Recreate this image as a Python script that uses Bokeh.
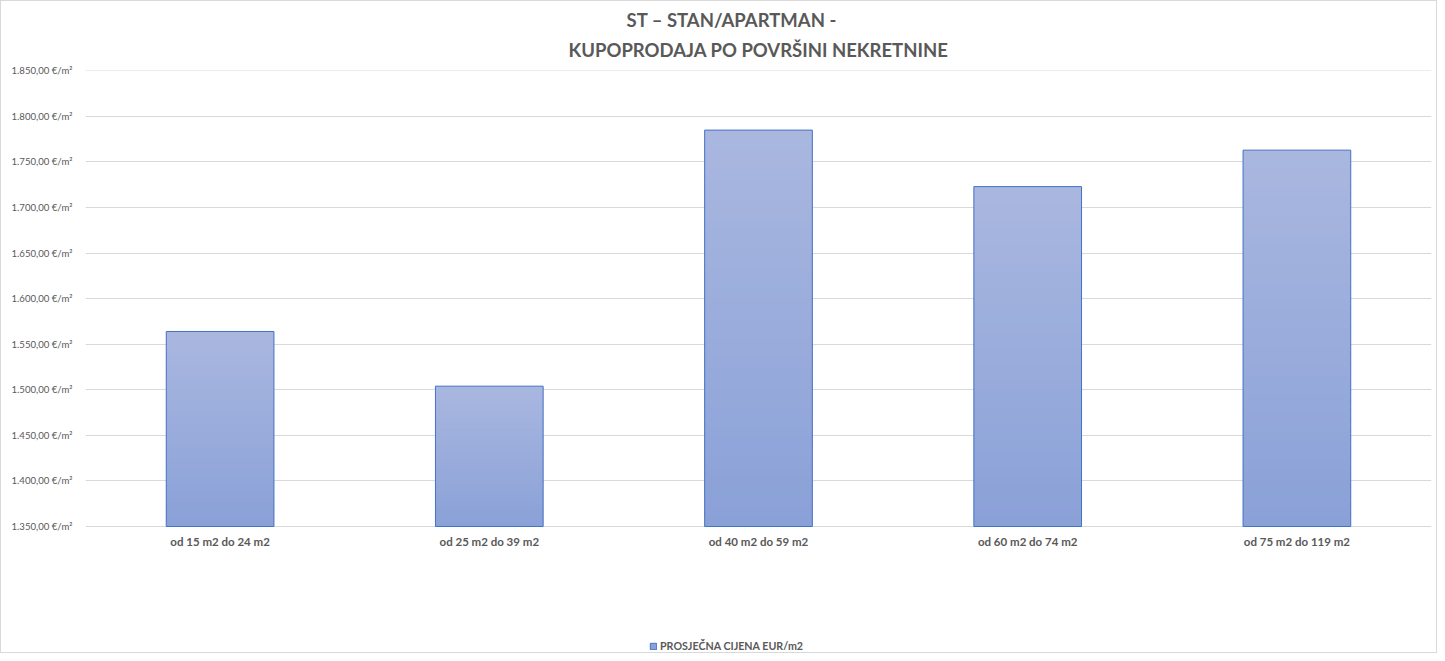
from bokeh.plotting import figure
from bokeh.models import FixedTicker, Title, Legend, LegendItem, ColumnDataSource, FactorRange, Range1d
from bokeh.core.properties import value
from bokeh.embed import file_html
from bokeh.resources import INLINE

categories = ["od 15 m2 do 24 m2", "od 25 m2 do 39 m2", "od 40 m2 do 59 m2",
              "od 60 m2 do 74 m2", "od 75 m2 do 119 m2"]
values = [1564, 1504, 1785, 1723, 1763]
y_ticks = [1350, 1400, 1450, 1500, 1550, 1600, 1650, 1700, 1750, 1800, 1850]
y_tick_labels = ["1.350,00 €/m²", "1.400,00 €/m²", "1.450,00 €/m²", "1.500,00 €/m²",
                 "1.550,00 €/m²", "1.600,00 €/m²", "1.650,00 €/m²", "1.700,00 €/m²",
                 "1.750,00 €/m²", "1.800,00 €/m²", "1.850,00 €/m²"]
series_name = "PROSJEČNA CIJENA EUR/m2"
base = 1350
y_top = 1850.4

FONT = "Lato"
GRAY = "#595959"

# layout: frame extends to the bottom so the category labels and legend live inside it
FIG_H = 653
TOP = 69
PLOT_PX = 456          # pixels between base and y_top
frame_h = FIG_H - TOP
px_per_unit = PLOT_PX / (y_top - base)
y_start = base - (frame_h - PLOT_PX) / px_per_unit

p = figure(width=1437, height=FIG_H, x_range=FactorRange(*categories),
           y_range=Range1d(y_start, y_top), output_backend="svg", toolbar_location=None,
           min_border_left=84, min_border_right=7, min_border_top=TOP, min_border_bottom=0)
p.outline_line_color = None
p.styles = {"border": "1px solid #d9d9d9", "box-sizing": "border-box"}

# gradient bars built from values
N = 40
bottom_rgb = (138, 161, 216)
top_rgb = (170, 184, 224)
xs, bots, tops, cols = [], [], [], []
for c, v in zip(categories, values):
    h = v - base
    for i in range(N):
        t = (i + 0.5) / N
        r = int(bottom_rgb[0] + (top_rgb[0] - bottom_rgb[0]) * t)
        g = int(bottom_rgb[1] + (top_rgb[1] - bottom_rgb[1]) * t)
        b = int(bottom_rgb[2] + (top_rgb[2] - bottom_rgb[2]) * t)
        xs.append(c)
        bots.append(base + h * i / N)
        tops.append(min(v, base + h * (i + 1.6) / N))
        cols.append("#%02x%02x%02x" % (r, g, b))
seg = ColumnDataSource(dict(x=xs, bottom=bots, top=tops, color=cols))
seg_r = p.vbar(x="x", bottom="bottom", top="top", width=0.4, source=seg,
               fill_color="color", line_color=None)
out_r = p.vbar(x=categories, bottom=base, top=values, width=0.4,
               fill_color=None, line_color="#4472c4", line_width=1)

# category labels under the bars
p.text(x=categories, y=[base] * len(categories), text=categories,
       text_align="center", text_baseline="middle", y_offset=15,
       text_font=value(FONT), text_font_size="11.5px",
       text_font_style="bold", text_color=GRAY)

# axes
p.yaxis.ticker = FixedTicker(ticks=y_ticks)
p.yaxis.major_label_overrides = {t: l for t, l in zip(y_ticks, y_tick_labels)}
p.yaxis.axis_line_color = None
p.yaxis.major_tick_line_color = None
p.yaxis.minor_tick_line_color = None
p.yaxis.major_label_text_font = FONT
p.yaxis.major_label_text_font_size = "9.6px"
p.yaxis.major_label_text_color = GRAY
p.yaxis.major_label_standoff = 7
p.xaxis.visible = False

p.xgrid.grid_line_color = None
p.ygrid.grid_line_color = "#d9d9d9"
p.ygrid.grid_line_width = 1

# title (two lines)
t2 = Title(text="KUPOPRODAJA PO POVRŠINI NEKRETNINE", align="center",
           text_font=FONT, text_font_size="18.5px", text_font_style="bold",
           text_color=GRAY, standoff=20)
t1 = Title(text="ST – STAN/APARTMAN -", align="left", offset=541,
           text_font=FONT, text_font_size="18.5px", text_font_style="bold",
           text_color=GRAY, standoff=-9)
p.add_layout(t2, "above")
p.add_layout(t1, "above")

legend = Legend(items=[LegendItem(label=series_name, renderers=[seg_r, out_r], index=0)],
                location=(564, 2), orientation="horizontal",
                label_text_font=FONT, label_text_font_size="10.7px",
                label_text_font_style="bold", label_text_color=GRAY,
                glyph_width=8, glyph_height=8, label_standoff=3,
                border_line_color=None, background_fill_alpha=0,
                padding=0, margin=0, label_height=10)
p.add_layout(legend, "center")

open("out.html", "w").write(file_html(p, INLINE))
